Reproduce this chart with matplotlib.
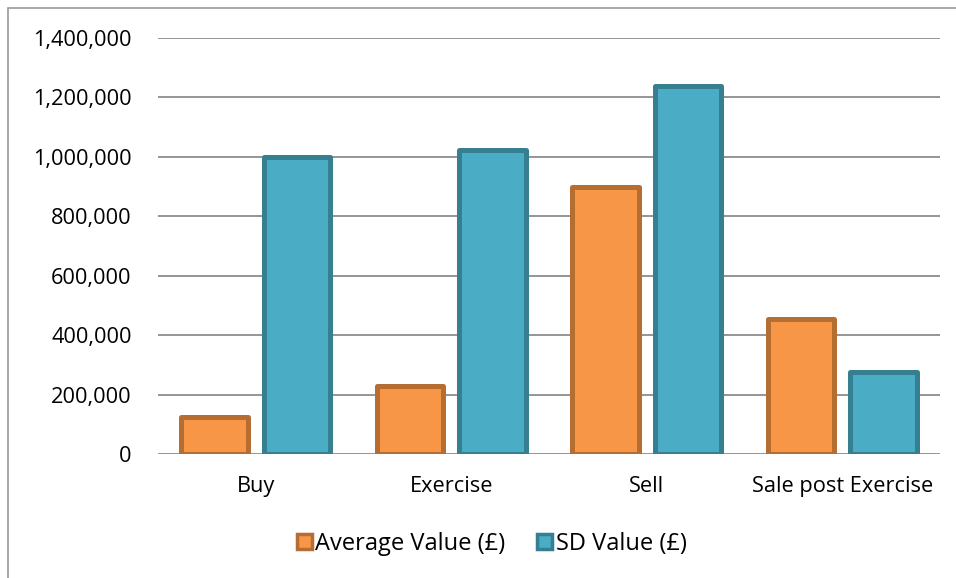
import numpy as np
import matplotlib.pyplot as plt
from matplotlib.patches import Rectangle
from matplotlib.ticker import FuncFormatter

categories = ['Buy', 'Exercise', 'Sell', 'Sale post Exercise']
average_value = [126000, 230000, 900000, 455000]
sd_value = [1000000, 1022000, 1237000, 275000]

plt.rcParams['font.family'] = ['Open Sans', 'DejaVu Sans']

fig = plt.figure(figsize=(9.56, 5.78), dpi=100)
ax = fig.add_axes([158 / 956, 1 - 454 / 578, 782 / 956, 416 / 578])

x = np.arange(len(categories))
width = 0.34
ax.bar(x - 0.21, average_value, width, color='#F79646', edgecolor='#B66D31',
       linewidth=3.6, joinstyle='round', label='Average Value (£)', zorder=3)
ax.bar(x + 0.21, sd_value, width, color='#4BACC6', edgecolor='#357F91',
       linewidth=3.6, joinstyle='round', label='SD Value (£)', zorder=3)

ax.set_xlim(-0.5, 3.5)
ax.set_ylim(0, 1400000)
ax.set_yticks(range(0, 1400001, 200000))
ax.yaxis.set_major_formatter(FuncFormatter(lambda v, p: f'{int(v):,}'))
ax.set_xticks(x)
ax.set_xticklabels(categories)
ax.grid(axis='y', color='#8C8C8C', linewidth=1.3, zorder=0)
for s in ax.spines.values():
    s.set_visible(False)
ax.tick_params(axis='both', length=0, labelsize=15.7, colors='black')
ax.tick_params(axis='y', pad=19)
ax.tick_params(axis='x', pad=16)

leg = ax.legend(loc='center', bbox_to_anchor=(0.427, -0.216), ncol=2,
                frameon=False, fontsize=17, handlelength=0.62, handleheight=0.62,
                handletextpad=0.15, columnspacing=1.35, borderpad=0)
for h in leg.legend_handles:
    h.set_linewidth(2.5)

# chart area border
fig.patches.append(Rectangle((8 / 956, -0.05), 1.1, 1 - 8 / 578 + 0.05,
                             transform=fig.transFigure, fill=False,
                             edgecolor='#9A9A9A', linewidth=1.2))

fig.savefig('out.png', dpi=100)
